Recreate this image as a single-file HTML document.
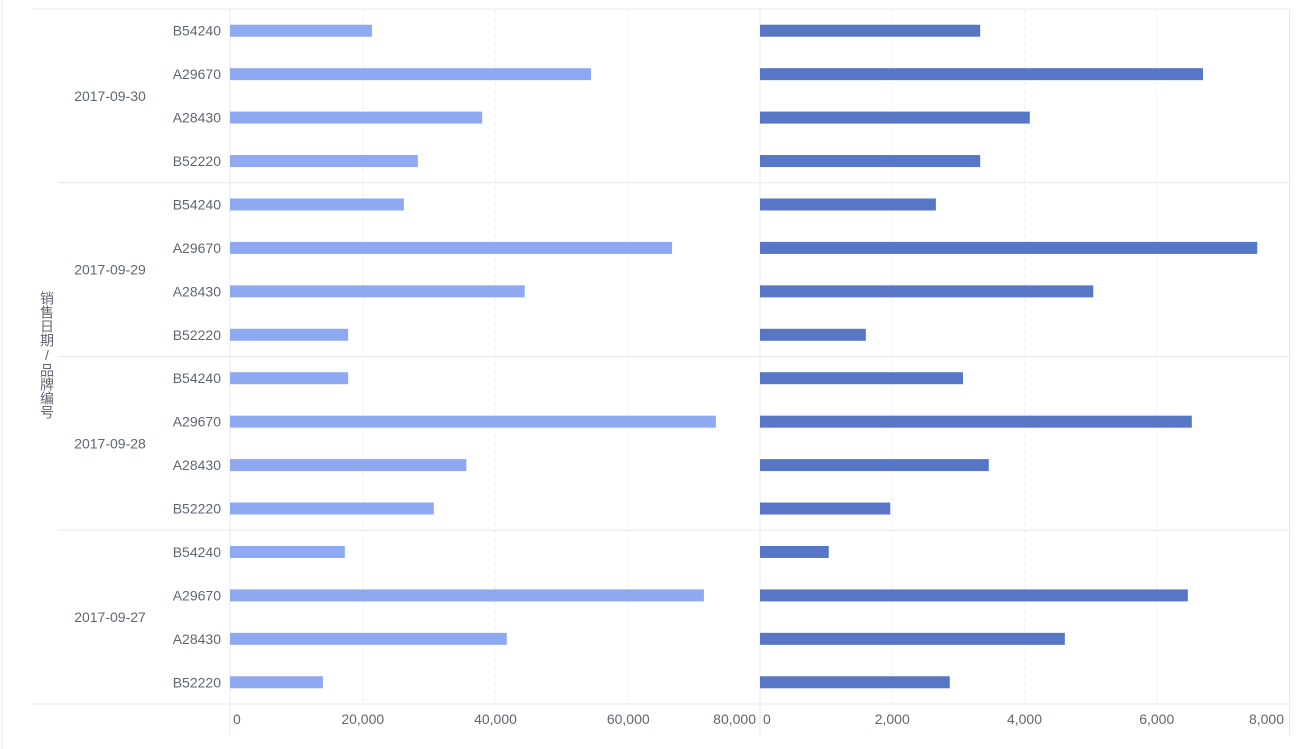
<!DOCTYPE html>
<html><head><meta charset="utf-8">
<style>
body{margin:0;background:#fff;width:1297px;height:749px;overflow:hidden;font-family:"Liberation Sans","Noto Sans CJK SC",sans-serif;}
#ytitle{position:absolute;left:39px;top:291px;writing-mode:vertical-rl;text-orientation:upright;font-size:14px;color:#5f6673;letter-spacing:0px;line-height:16px;}
</style></head>
<body>
<svg id="chart" width="1297" height="749" style="position:absolute;left:0;top:0" font-family="Liberation Sans, Noto Sans CJK SC, sans-serif"></svg>
<div id="ytitle">销售日期/品牌编号</div>
<script>
const dates = ["2017-09-30","2017-09-29","2017-09-28","2017-09-27"];
const brands = ["B54240","A29670","A28430","B52220"];
const leftValues = [
  [21400,54400,38000,28300],
  [26200,66600,44400,17800],
  [17800,73200,35600,30700],
  [17300,71400,41700,14000]
];
const rightValues = [
  [3330,6700,4080,3330],
  [2660,7520,5040,1600],
  [3070,6530,3460,1970],
  [1040,6470,4610,2870]
];
const leftTicks = [0,20000,40000,60000,80000];
const rightTicks = [0,2000,4000,6000,8000];

const svg = document.getElementById('chart');
const NS = 'http://www.w3.org/2000/svg';
function mk(tag, attrs, parent){const e=document.createElementNS(NS,tag);for(const k in attrs)e.setAttribute(k,attrs[k]);(parent||svg).appendChild(e);return e;}
const top0 = 9, groupH = 173.75, rowH = groupH/4;
const L0=230, L1=761, R0=760, R1=1289;
const xL = v => L0 + v/80000*(L1-L0);
const xR = v => R0 + v/8000*(R1-R0);
const yRow = (g,r) => top0 + g*groupH + (r+0.5)*rowH;
const fmt = v => v.toLocaleString('en-US');

// frame
mk('line',{x1:2,y1:0,x2:2,y2:749,stroke:'#e6e8ec'});
mk('line',{x1:32,y1:top0,x2:1290,y2:top0,stroke:'#e6e8ec'});
mk('line',{x1:32,y1:top0+4*groupH,x2:1290,y2:top0+4*groupH,stroke:'#e6e8ec'});
for(let g=1;g<4;g++) mk('line',{x1:58,y1:top0+g*groupH,x2:1290,y2:top0+g*groupH,stroke:'#e6e8ec'});
mk('line',{x1:L0,y1:top0,x2:L0,y2:735,stroke:'#e6e8ec'});
mk('line',{x1:R0,y1:top0,x2:R0,y2:735,stroke:'#e6e8ec'});
mk('line',{x1:1289.5,y1:top0,x2:1289.5,y2:735,stroke:'#e6e8ec'});
// grid
leftTicks.forEach((t,i)=>{ if(i>0&&i<leftTicks.length-1){const l=mk('line',{x1:xL(t),y1:top0,x2:xL(t),y2:top0+4*groupH,stroke:'#eceef2','stroke-dasharray':'4,4'});}});
rightTicks.forEach((t,i)=>{ if(i>0&&i<rightTicks.length-1){const l=mk('line',{x1:xR(t),y1:top0,x2:xR(t),y2:top0+4*groupH,stroke:'#eceef2','stroke-dasharray':'4,4'});}});
// tick labels
leftTicks.forEach((t,i)=>{
  const last=i===leftTicks.length-1, first=i===0;
  const e=mk('text',{x:first?xL(t)+3:(last?xL(t)-5:xL(t)),y:724,'font-size':14,fill:'#5f6673','text-anchor':first?'start':(last?'end':'middle')});
  e.textContent=fmt(t);
  
  
});
rightTicks.forEach((t,i)=>{
  const last=i===rightTicks.length-1, first=i===0;
  const e=mk('text',{x:first?xR(t)+3:(last?xR(t)-5:xR(t)),y:724,'font-size':14,fill:'#5f6673','text-anchor':first?'start':(last?'end':'middle')});
  e.textContent=fmt(t);
  
  
});
// labels and bars
dates.forEach((d,g)=>{
  const dl=mk('text',{x:110,y:top0+g*groupH+groupH/2+5,'font-size':14,fill:'#5f6673','text-anchor':'middle'});
  dl.textContent=d;
  
  
  brands.forEach((b,r)=>{
    const y=yRow(g,r);
    const bl=mk('text',{x:221,y:y+5,'font-size':14,fill:'#5f6673','text-anchor':'end'});
    bl.textContent=b;
    
    
    const lb=mk('rect',{x:L0,y:y-6,width:xL(leftValues[g][r])-L0,height:12,fill:'#8ea9f1'});
    
    
    const rb=mk('rect',{x:R0,y:y-6,width:xR(rightValues[g][r])-R0,height:12,fill:'#5776c6'});
    
    
  });
});
</script>
</body></html>
